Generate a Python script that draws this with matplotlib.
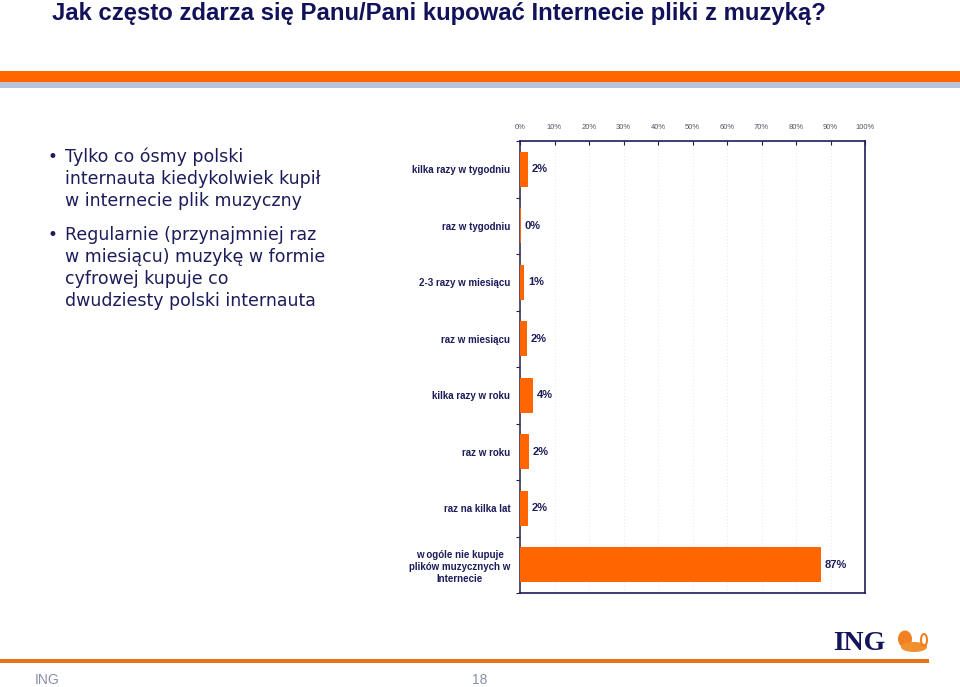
import matplotlib
matplotlib.use("Agg")
import matplotlib.pyplot as plt
import numpy as np
from matplotlib.patches import Rectangle, Ellipse

categories = [
    "kilka razy w tygodniu",
    "raz w tygodniu",
    "2-3 razy w miesiącu",
    "raz w miesiącu",
    "kilka razy w roku",
    "raz w roku",
    "raz na kilka lat",
    "w ogóle nie kupuje\nplików muzycznych w\nInternecie",
]
values = [2.3, 0.2, 1.2, 1.9, 3.8, 2.5, 2.2, 87.2]
value_labels = ["2%", "0%", "1%", "2%", "4%", "2%", "2%", "87%"]
x_ticks = [0, 10, 20, 30, 40, 50, 60, 70, 80, 90, 100]
x_tick_labels = [f"{t}%" for t in x_ticks]

title = "Jak często zdarza się Panu/Pani kupować Internecie pliki z muzyką?"
bullets = [
    "Tylko co ósmy polski\ninternauta kiedykolwiek kupił\nw internecie plik muzyczny",
    "Regularnie (przynajmniej raz\nw miesiącu) muzykę w formie\ncyfrowej kupuje co\ndwudziesty polski internauta",
]

NAVY = "#1c1c5a"
ORANGE = "#ff6600"

W, H = 960, 687
fig = plt.figure(figsize=(W / 100, H / 100), dpi=100)
fig.patch.set_facecolor("white")

def fx(px):
    return px / W

def fy(py):
    return 1 - py / H

# Title
fig.text(fx(52), fy(20), title, fontsize=17.2, fontweight="bold", color="#12125a",
         family=["Liberation Sans", "DejaVu Sans"], ha="left", va="baseline")

# Header bands
fig.add_artist(Rectangle((0, fy(82)), 1, (82 - 71) / H, transform=fig.transFigure,
                         facecolor=ORANGE, edgecolor="none"))
fig.add_artist(Rectangle((0, fy(88)), 1, (88 - 82) / H, transform=fig.transFigure,
                         facecolor="#b9c3dc", edgecolor="none"))

# Bullets
y0 = 157
for b in bullets:
    fig.text(fx(47), fy(y0), "•", fontsize=12, color=NAVY, ha="left", va="center")
    lines = b.split("\n")
    for i, ln in enumerate(lines):
        fig.text(fx(65), fy(y0 + 22 * i), ln, fontsize=12.5, color=NAVY,
                 family="DejaVu Sans", ha="left", va="center")
    y0 += 22 * len(lines) + 12

# Bar chart axes
ax = fig.add_axes([fx(520), fy(593), fx(865) - fx(520), (593 - 141) / H])
n = len(categories)
ypos = np.arange(n)
ax.barh(ypos, values, height=0.62, color=ORANGE, edgecolor="none", zorder=3)
ax.set_xlim(0, 100)
ax.set_ylim(n - 0.5, -0.5)

for y, v, lab in zip(ypos, values, value_labels):
    ax.text(v + 1.2, y, lab, fontsize=8, fontweight="bold", color=NAVY,
            ha="left", va="center", family="Liberation Sans", zorder=4)

ax.xaxis.tick_top()
ax.set_xticks(x_ticks)
ax.set_xticklabels(x_tick_labels, fontsize=5.5, color="#555566", family="Liberation Sans")
ax.tick_params(axis="x", direction="in", length=3, color=NAVY, pad=7, width=0.8)
for t in x_ticks:
    ax.axvline(t, color="#dddddd", linestyle=(0, (1, 3)), linewidth=0.6, zorder=1)

ax.set_yticks(ypos)
ax.set_yticklabels(categories, fontsize=7, fontweight="bold", color=NAVY,
                   family="Liberation Sans", linespacing=1.3, multialignment="center")
ax.tick_params(axis="y", length=0, pad=7)
ax.set_yticks(np.arange(-0.5, n, 1.0), minor=True)
ax.tick_params(axis="y", which="minor", direction="out", length=3, color=NAVY, width=0.8)

for s in ax.spines.values():
    s.set_color(NAVY)
    s.set_linewidth(1.2)
ax.spines["left"].set_color("#333355")

# Bottom line and footer
fig.add_artist(Rectangle((0, fy(663)), fx(929), 4 / H, transform=fig.transFigure,
                         facecolor="#e8731a", edgecolor="none"))
fig.text(fx(35), fy(680), "ING", fontsize=10, color="#8a8fa8", ha="left", va="center",
         family="Liberation Sans")
fig.text(fx(487), fy(680), "18", fontsize=10, color="#8a8fa8", ha="right", va="center",
         family="Liberation Sans")

# ING logo
fig.text(fx(833), fy(643), "ING", fontsize=20, fontweight="bold", color="#14145a",
         family="Liberation Serif", ha="left", va="center")
fig.add_artist(Ellipse((fx(905), fy(639)), 14 / W, 17 / H, transform=fig.transFigure,
                       facecolor="#f08020", edgecolor="none"))
fig.add_artist(Ellipse((fx(914), fy(647)), 26 / W, 10 / H, transform=fig.transFigure,
                       facecolor="#f29030", edgecolor="none"))
fig.add_artist(Ellipse((fx(924), fy(640)), 6 / W, 12 / H, transform=fig.transFigure,
                       facecolor="none", edgecolor="#f08020", linewidth=1.5))

fig.savefig("out.png", dpi=100)
